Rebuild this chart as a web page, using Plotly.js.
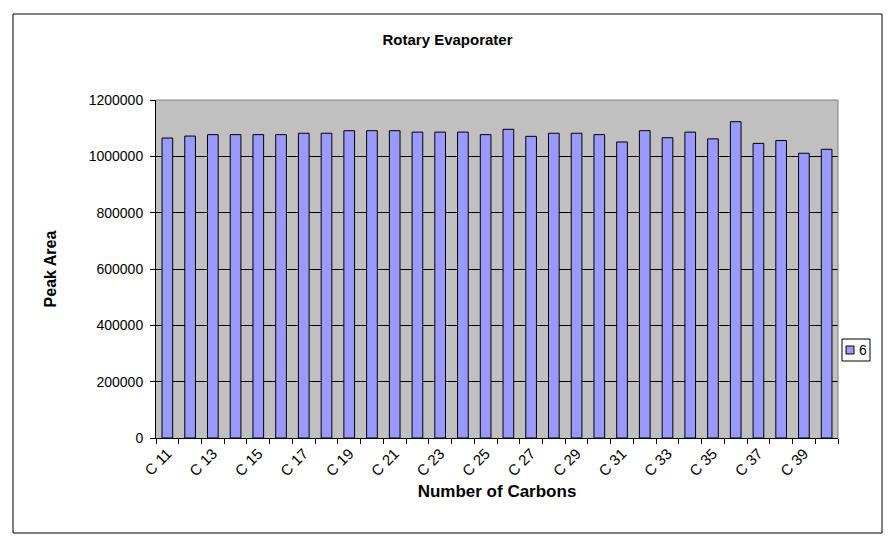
<!DOCTYPE html>
<html>
<head>
<meta charset="utf-8">
<script src="https://cdn.plot.ly/plotly-3.0.1.min.js"></script>
<style>
html,body{margin:0;padding:0;background:#fff;}
#chart{width:895px;height:547px;}
</style>
</head>
<body>
<div id="chart"></div>
<script>
const categories = ["C 11","C 12","C 13","C 14","C 15","C 16","C 17","C 18","C 19","C 20",
  "C 21","C 22","C 23","C 24","C 25","C 26","C 27","C 28","C 29","C 30",
  "C 31","C 32","C 33","C 34","C 35","C 36","C 37","C 38","C 39","C 40"];
const peakArea = [1065000,1072000,1077000,1077000,1077000,1077000,1082000,1082000,1091000,1091000,
  1091000,1086000,1086000,1086000,1077000,1096000,1071000,1082000,1082000,1077000,
  1051000,1091000,1066000,1086000,1062000,1123000,1046000,1056000,1011000,1025000];
const seriesName = "6";
const tickLabels = categories.map((c,i) => i % 2 === 0 ? c : "");

const barColor = "#9999FF";
const trace = {
  type: "bar",
  x: categories,
  y: peakArea,
  name: seriesName,
  marker: {color: barColor, line: {color: "#000000", width: 1}},
  showlegend: false
};

const fam = "Liberation Sans, Arial, sans-serif";
const PL = 156, PR = 838, PT = 100, PB = 438;
const PW = PR - PL, PH = PB - PT;
const px = x => (x - PL) / PW;
const py = y => (PB - y) / PH;

const layout = {
  width: 895, height: 547,
  margin: {l: PL, r: 895 - PR, t: PT, b: 547 - PB, pad: 0, autoexpand: false},
  paper_bgcolor: "#ffffff",
  plot_bgcolor: "#C0C0C0",
  font: {family: fam, color: "#000"},
  bargap: 0.53,
  showlegend: false,
  title: {text: "<b>Rotary Evaporater</b>", font: {size: 15, family: fam, color: "#000"},
          xref: "container", x: 0.5, y: 1 - 40/547, yanchor: "middle"},
  xaxis: {
    type: "category",
    tickvals: categories,
    ticktext: tickLabels,
    tickangle: -45,
    tickson: "boundaries",
    ticks: "outside", ticklen: 5, tickcolor: "#000", tickwidth: 1,
    showline: true, linecolor: "#000", linewidth: 1,
    showgrid: false,
    tickfont: {size: 15, family: fam, color: "#000"},
    title: {text: "<b>Number of Carbons</b>", font: {size: 17, family: fam, color: "#000"}, standoff: 6},
    range: [-0.5, 29.5]
  },
  yaxis: {
    range: [0, 1200000],
    dtick: 200000,
    tickformat: "d",
    ticks: "outside", ticklen: 5, tickcolor: "#000", tickwidth: 1,
    ticklabelstandoff: 4,
    showline: true, linecolor: "#000", linewidth: 1,
    showgrid: true, gridcolor: "#000", gridwidth: 1,
    zeroline: false,
    tickfont: {size: 14, family: fam, color: "#000"},
    title: {text: "<b>Peak Area</b>", font: {size: 16, family: fam, color: "#000"}, standoff: 28}
  },
  shapes: [
    {type: "rect", xref: "paper", yref: "paper",
     x0: px(13), x1: px(882), y0: py(533), y1: py(14),
     line: {color: "#000", width: 1}, fillcolor: "rgba(0,0,0,0)", layer: "below"},
    {type: "line", xref: "paper", yref: "paper", x0: 0, x1: 1, y0: 1, y1: 1,
     line: {color: "#808080", width: 1}},
    {type: "line", xref: "paper", yref: "paper", x0: 1, x1: 1, y0: 0, y1: 1,
     line: {color: "#808080", width: 1}},
    {type: "rect", xref: "paper", yref: "paper",
     x0: px(842), x1: px(870), y0: py(361), y1: py(339),
     line: {color: "#000", width: 1}, fillcolor: "#ffffff"},
    {type: "rect", xref: "paper", yref: "paper",
     x0: px(846), x1: px(854), y0: py(354), y1: py(346),
     line: {color: "#000", width: 1}, fillcolor: barColor}
  ],
  annotations: [
    {text: seriesName, xref: "paper", yref: "paper", x: px(857), y: py(350),
     xanchor: "left", yanchor: "middle", showarrow: false,
     font: {size: 14, family: fam, color: "#000"}}
  ]
};

Plotly.newPlot("chart", [trace], layout, {displayModeBar: false, staticPlot: true});
</script>
</body>
</html>
